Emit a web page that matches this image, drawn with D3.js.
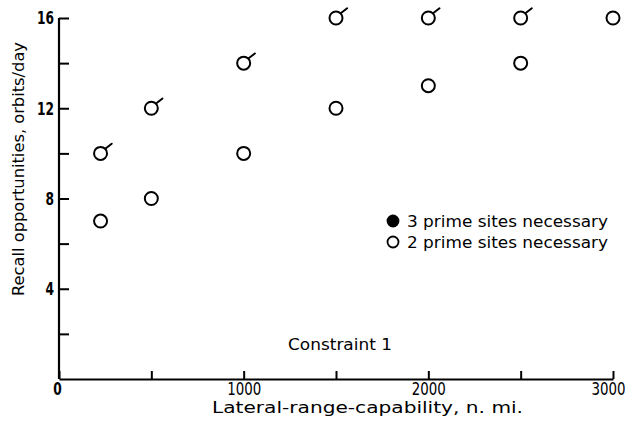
<!DOCTYPE html>
<html><head><meta charset="utf-8">
<script src="https://cdn.jsdelivr.net/npm/d3@7"></script>
<style>
body{margin:0;background:#fff;}
text{font-family:"DejaVu Sans",sans-serif;fill:#000;}
</style></head>
<body><svg id="c" width="631" height="423"></svg>
<script>
// Data
const flaggedX = [225, 500, 1000, 1500, 2000, 2500];
const flaggedY = [10, 12, 14, 16, 16, 16];
const plainX = [225, 500, 1000, 1500, 2000, 2500, 3000];
const plainY = [7, 8, 10, 12, 13, 14, 16];
const xTicks = [0, 500, 1000, 1500, 2000, 2500, 3000];
const xTickLabels = [0, 1000, 2000, 3000];
const yTicks = [2, 4, 6, 8, 10, 12, 14, 16];
const yTickLabels = [4, 8, 12, 16];
const legendLabels = ["3 prime sites necessary", "2 prime sites necessary"];

const svg = d3.select("#c");
const x = d3.scaleLinear().domain([0, 3000]).range([59, 613]);
const y = d3.scaleLinear().domain([0, 16]).range([379, 18]);

const gx = svg.append("g").attr("transform", `translate(0,${y(0)})`)
  .call(d3.axisBottom(x).tickValues(xTicks).tickSize(-8).tickSizeOuter(0).tickPadding(3)
    .tickFormat(d => xTickLabels.includes(d) ? d : ""));
const gy = svg.append("g").attr("transform", `translate(${x(0)},0)`)
  .call(d3.axisLeft(y).tickValues(yTicks).tickSize(-10).tickSizeOuter(0).tickPadding(5)
    .tickFormat(d => yTickLabels.includes(d) ? d : ""));
[gx, gy].forEach(g => {
  g.select(".domain").attr("stroke", "#000").attr("stroke-width", 2.2);
  g.selectAll(".tick line").attr("stroke", "#000").attr("stroke-width", 2);
  g.selectAll(".tick text").style("font-family", '"DejaVu Sans Condensed",sans-serif')
    .style("font-size", "18px").attr("fill", "#000")
    .each(function(d) {
      const s = String(d);
      if (yTickLabels.includes(d) || xTickLabels.includes(d)) {
        d3.select(this).attr("textLength", s.length * 8.5).attr("lengthAdjust", "spacingAndGlyphs");
      }
    });
});
gy.selectAll(".tick text").style("font-weight", "bold");
gx.selectAll(".tick text").filter(d => d === 3000).attr("dx", -5);
gx.selectAll(".tick text").filter(d => d === 0).attr("dx", -2).style("font-weight", "bold");
gy.select(".domain").attr("d", `M0,${y(0)}V${y(16)}`);

const r = 6.5;
const plain = plainX.map((v, i) => ({x: v, y: plainY[i]}));
const flagged = flaggedX.map((v, i) => ({x: v, y: flaggedY[i]}));

svg.append("g").selectAll("circle").data(plain.concat(flagged)).join("circle")
  .attr("cx", d => x(d.x)).attr("cy", d => y(d.y)).attr("r", r)
  .attr("fill", "#fff").attr("stroke", "#000").attr("stroke-width", 2);

svg.append("g").selectAll("line").data(flagged).join("line")
  .attr("x1", d => x(d.x) + r * 0.72).attr("y1", d => y(d.y) - r * 0.72)
  .attr("x2", d => x(d.x) + r * 0.72 + 6.5).attr("y2", d => y(d.y) - r * 0.72 - 5)
  .attr("stroke", "#000").attr("stroke-width", 2).attr("stroke-linecap", "round");

// Legend
const leg = svg.append("g");
legendLabels.forEach((t, i) => {
  leg.append("circle").attr("cx", 393).attr("cy", 221 + i * 21).attr("r", 5.5)
    .attr("fill", i === 0 ? "#000" : "#fff").attr("stroke", "#000").attr("stroke-width", 1.8);
  leg.append("text").attr("x", 407).attr("y", 227 + i * 21).style("font-size", "16.5px")
    .attr("textLength", 201).attr("lengthAdjust", "spacingAndGlyphs").text(t);
});

svg.append("text").attr("x", 288).attr("y", 350).style("font-size", "16.5px")
  .attr("textLength", 104).attr("lengthAdjust", "spacingAndGlyphs").text("Constraint 1");
svg.append("text").attr("x", 212).attr("y", 413)
  .style("font-size", "16px").attr("textLength", 311).attr("lengthAdjust", "spacingAndGlyphs")
  .text("Lateral-range-capability, n. mi.");
svg.append("text").attr("transform", "translate(24,296) rotate(-90)")
  .style("font-size", "16.5px").attr("textLength", 254).attr("lengthAdjust", "spacingAndGlyphs")
  .text("Recall opportunities, orbits/day");
</script></body></html>
